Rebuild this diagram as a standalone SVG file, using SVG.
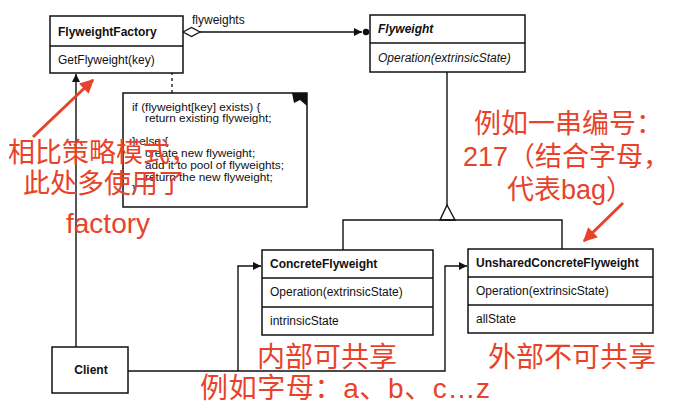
<svg xmlns="http://www.w3.org/2000/svg" width="681" height="409" viewBox="0 0 681 409">
<style>
.box{fill:#fff;stroke:#111;stroke-width:1.5}
.ln{fill:none;stroke:#111;stroke-width:1.4}
.t{font-family:"Liberation Sans",Arial,sans-serif;font-size:12px;fill:#111}
.b{font-weight:bold}
.i{font-style:italic}
.n{font-family:"Liberation Sans",Arial,sans-serif;font-size:11.8px;fill:#111}
.r{font-family:"Liberation Sans","Noto Sans CJK SC",sans-serif;font-size:27px;fill:#e8432a}
.r2{font-family:"Liberation Sans","Noto Sans CJK SC",sans-serif;font-size:28px;fill:#e8432a}
.ra{fill:none;stroke:#e8432a;stroke-width:3}
</style>
<defs>
<marker id="ah" viewBox="0 0 10 10" refX="10" refY="5" markerWidth="9" markerHeight="8" markerUnits="userSpaceOnUse" orient="auto"><path d="M0,0 L10,5 L0,10 z" fill="#111"/></marker>
<marker id="rah" viewBox="0 0 10 10" refX="9" refY="5" markerWidth="16" markerHeight="14" markerUnits="userSpaceOnUse" orient="auto"><path d="M0,0 L10,5 L0,10 z" fill="#e8432a"/></marker>
</defs>

<g id="connectors">
  <path class="ln" d="M200,32 L362,32" marker-end="url(#ah)"/>
  <path d="M183,32 L191.5,27.5 L200,32 L191.5,36.5 z" fill="#fff" stroke="#111" stroke-width="1.3"/>
  <circle cx="366" cy="32" r="3.2" fill="#111"/>
  <text class="t" x="192" y="24">flyweights</text>
  <circle cx="172" cy="57" r="2.6" fill="#fff" stroke="#111" stroke-width="1.3"/>
  <path d="M172,60 L172,93" stroke="#111" stroke-width="1.3" stroke-dasharray="3,3"/>
  <path class="ln" d="M447,72 L447,205"/>
  <path d="M447,205 L440,220 L455,220 z" fill="#fff" stroke="#111" stroke-width="1.4"/>
  <path class="ln" d="M343,250 L343,220 L562,220 L562,249"/>
  <path class="ln" d="M76,347 L76,74" marker-end="url(#ah)"/>
  <path class="ln" d="M128,371 L445,371 L445,266 L467,266" marker-end="url(#ah)"/>
  <path class="ln" d="M238,371 L238,266 L261,266" marker-end="url(#ah)"/>
</g>

<g id="FlyweightFactory">
  <rect class="box" x="50" y="16" width="133" height="57"/>
  <path class="ln" d="M50,46 L183,46"/>
  <text class="t b" x="58" y="36">FlyweightFactory</text>
  <text class="t" x="58" y="64">GetFlyweight(key)</text>
</g>

<g id="Flyweight">
  <rect class="box" x="370" y="15" width="155" height="57"/>
  <path class="ln" d="M370,43 L525,43"/>
  <text class="t b i" x="378" y="33">Flyweight</text>
  <text class="t i" x="378" y="62">Operation(extrinsicState)</text>
</g>

<g id="Note">
  <path class="box" d="M123,93 L307,93 L307,207 L123,207 z"/>
  <path d="M292,93 L307,93 L307,106 L300,100 L294,103 z" fill="#111"/>
  <text class="n" x="132" y="111">if (flyweight[key] exists) {</text>
  <text class="n" x="145" y="122">return existing flyweight;</text>
  <text class="n" x="132" y="145">} else {</text>
  <text class="n" x="145" y="157">create new flyweight;</text>
  <text class="n" x="145" y="169">add it to pool of flyweights;</text>
  <text class="n" x="145" y="181">return the new flyweight;</text>
  <text class="n" x="132" y="193">}</text>
</g>

<g id="ConcreteFlyweight">
  <rect class="box" x="262" y="250" width="171" height="85"/>
  <path class="ln" d="M262,278 L433,278 M262,307 L433,307"/>
  <text class="t b" x="270" y="268">ConcreteFlyweight</text>
  <text class="t" x="270" y="296">Operation(extrinsicState)</text>
  <text class="t" x="270" y="325">intrinsicState</text>
</g>

<g id="UnsharedConcreteFlyweight">
  <rect class="box" x="468" y="249" width="185" height="84"/>
  <path class="ln" d="M468,277 L653,277 M468,305 L653,305"/>
  <text class="t b" x="476" y="267">UnsharedConcreteFlyweight</text>
  <text class="t" x="476" y="295">Operation(extrinsicState)</text>
  <text class="t" x="476" y="323">allState</text>
</g>

<g id="Client">
  <rect class="box" x="52" y="347" width="76" height="46"/>
  <text class="t b" x="91" y="374" text-anchor="middle">Client</text>
</g>

<g id="annotations">
  <path class="ra" d="M33,137 L93,80" marker-end="url(#rah)"/>
  <path class="ra" d="M623,203 L584,241" marker-end="url(#rah)"/>
  <text class="r" x="8" y="162">相比策略模式，</text>
  <text class="r" x="23" y="193">此处多使用了</text>
  <text class="r2" x="66" y="233">factory</text>
  <text class="r" x="474" y="133">例如一串编号：</text>
  <text class="r" x="463" y="166">217（结合字母，</text>
  <text class="r" x="507" y="199">代表bag）</text>
  <text class="r2" x="257" y="367">内部可共享</text>
  <text class="r2" x="488" y="367">外部不可共享</text>
  <text class="r2" x="200" y="398" textLength="290">例如字母：a、b、c…z</text>
</g>
</svg>
